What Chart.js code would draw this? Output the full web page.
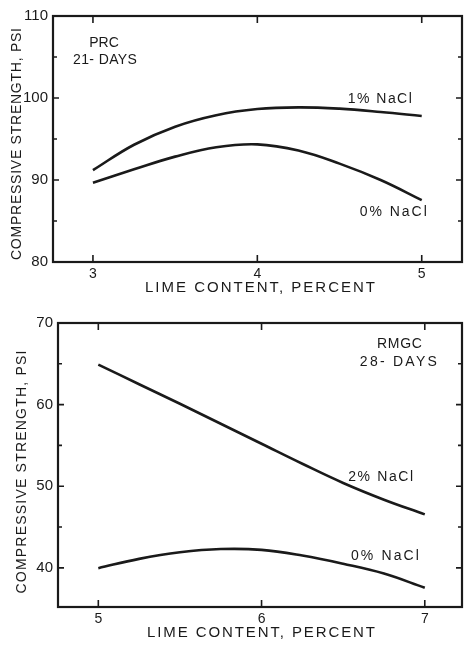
<!DOCTYPE html>
<html><head><meta charset="utf-8">
<script src="https://cdn.jsdelivr.net/npm/chart.js@4/dist/chart.umd.min.js"></script>
<style>
html,body{margin:0;padding:0;background:#fff;}
#wrap{position:relative;width:464px;height:645px;background:#fff;}
canvas{position:absolute;left:0;display:block;}
</style></head><body>
<div id="wrap">
<canvas id="c1" width="464" height="300" style="top:0"></canvas>
<canvas id="c2" width="464" height="345" style="top:300px"></canvas>
</div>
<script>
// ---- Top panel: PRC, 21 days ----
const prcLime   = [3, 3.25, 3.5, 3.75, 4, 4.25, 4.5, 4.75, 5];
const prcNaCl1  = [91.2, 94.3, 96.5, 97.9, 98.65, 98.86, 98.7, 98.3, 97.8];
const prcNaCl0  = [89.67, 91.3, 92.85, 94.0, 94.35, 93.6, 92.0, 90.0, 87.55];
const prcXTicks = [3, 4, 5];
const prcYTicks = [80, 85, 90, 95, 100, 105, 110];

// ---- Bottom panel: RMGC, 28 days ----
const rmgcLime   = [5, 5.25, 5.5, 5.75, 6, 6.25, 6.5, 6.75, 7];
const rmgcNaCl2  = [64.9, 62.5, 60.1, 57.65, 55.2, 52.75, 50.4, 48.35, 46.55];
const rmgcNaCl0  = [39.96, 41.1, 41.9, 42.3, 42.2, 41.5, 40.5, 39.3, 37.55];
const rmgcXTicks = [5, 6, 7];
const rmgcYTicks = [40, 45, 50, 55, 60, 65, 70];

const xTitle = 'LIME CONTENT, PERCENT';
const yTitle = 'COMPRESSIVE STRENGTH, PSI';

const INK = '#1a1a1a';
const FONT = '"Liberation Sans", Arial, sans-serif';

function drawSpaced(ctx, text, cx, cy, width, rot, size) {
  ctx.save();
  ctx.font = size + 'px ' + FONT;
  ctx.fillStyle = INK;
  ctx.textAlign = 'left';
  ctx.textBaseline = 'middle';
  ctx.letterSpacing = '0px';
  const w0 = ctx.measureText(text).width;
  let sp = 0;
  if (width) sp = Math.max(0, (width - w0) / (text.length - 1));
  ctx.letterSpacing = sp + 'px';
  const w = w0 + sp * (text.length - 1);
  ctx.translate(cx, cy);
  if (rot) ctx.rotate(rot);
  ctx.fillText(text, -w / 2, 0);
  ctx.restore();
}

function frameplugin(opts) {
  return {
    id: 'frame',
    afterDraw(chart) {
      const ctx = chart.ctx, a = chart.chartArea;
      const xs = chart.scales.x, ys = chart.scales.y;
      ctx.save();
      ctx.strokeStyle = INK;
      ctx.lineWidth = 2.2;
      ctx.strokeRect(a.left, a.top, a.right - a.left, a.bottom - a.top);
      ctx.lineWidth = 1.6;
      ctx.beginPath();
      opts.yTicks.forEach(v => {
        const p = ys.getPixelForValue(v);
        if (p <= a.top + 1 || p >= a.bottom - 1) return;
        const L = v % 10 === 0 ? 6 : 4;
        ctx.moveTo(a.left, p); ctx.lineTo(a.left + L, p);
        ctx.moveTo(a.right, p); ctx.lineTo(a.right - L, p);
      });
      opts.xTicks.forEach(v => {
        const p = xs.getPixelForValue(v);
        ctx.moveTo(p, a.bottom); ctx.lineTo(p, a.bottom - 7);
        ctx.moveTo(p, a.top); ctx.lineTo(p, a.top + 7);
      });
      ctx.stroke();
      ctx.restore();
      // axis titles
      drawSpaced(ctx, xTitle, opts.xTitlePos[0], opts.xTitlePos[1], opts.xTitleW, 0, 15);
      drawSpaced(ctx, yTitle, opts.yTitlePos[0], opts.yTitlePos[1], opts.yTitleW, -Math.PI / 2, 14);
      // annotations (positioned in data units)
      opts.notes.forEach(n => {
        drawSpaced(ctx, n.t, xs.getPixelForValue(n.x), ys.getPixelForValue(n.y), n.w, 0, 14);
      });
    }
  };
}

function makeChart(id, o) {
  const ds = o.series.map(s => ({
    data: o.lime.map((x, i) => ({x, y: s[i]})),
    borderColor: INK, borderWidth: 2.6, pointRadius: 0,
    tension: 0.4, fill: false
  }));
  return new Chart(document.getElementById(id), {
    type: 'line',
    data: {datasets: ds},
    options: {
      responsive: false, animation: false, devicePixelRatio: 1,
      layout: {padding: {top: o.padTop, right: 2, left: 0, bottom: 0}},
      plugins: {legend: {display: false}, tooltip: {enabled: false}},
      scales: {
        x: {
          type: 'linear', min: o.xMin, max: o.xMax,
          afterBuildTicks: s => { s.ticks = o.xTicks.map(v => ({value: v})); },
          afterFit: s => { s.height = o.xH; },
          grid: {display: false, drawTicks: false}, border: {display: false},
          ticks: {font: {family: FONT, size: 14}, color: INK, padding: 4, maxRotation: 0, autoSkip: false,
                  callback: v => String(v)}
        },
        y: {
          type: 'linear', min: o.yMin, max: o.yMax,
          afterBuildTicks: s => { s.ticks = o.yTicks.map(v => ({value: v})); },
          afterFit: s => { s.width = o.yW; },
          grid: {display: false, drawTicks: false}, border: {display: false},
          ticks: {font: {family: FONT, size: 15}, color: INK, padding: 5, autoSkip: false,
                  callback: v => (v % 10 === 0 ? String(v) : '')}
        }
      }
    },
    plugins: [frameplugin(o)]
  });
}

makeChart('c1', {
  lime: prcLime, series: [prcNaCl1, prcNaCl0],
  xMin: 2.757, xMax: 5.245, yMin: 80, yMax: 110,
  xTicks: prcXTicks, yTicks: prcYTicks,
  padTop: 16, xH: 38, yW: 53,
  xTitlePos: [260, 288], xTitleW: 230,
  yTitlePos: [17, 144], yTitleW: 232,
  notes: [
    {t: 'PRC', x: 3.067, y: 106.7, w: 28},
    {t: '21- DAYS', x: 3.073, y: 104.6, w: 64},
    {t: '1% NaCl', x: 4.745, y: 99.9, w: 64},
    {t: '0% NaCl', x: 4.827, y: 86.1, w: 67}
  ]
});

makeChart('c2', {
  lime: rmgcLime, series: [rmgcNaCl2, rmgcNaCl0],
  xMin: 4.753, xMax: 7.228, yMin: 35.2, yMax: 70,
  xTicks: rmgcXTicks, yTicks: rmgcYTicks,
  padTop: 23, xH: 38, yW: 58,
  xTitlePos: [261, 333], xTitleW: 228,
  yTitlePos: [22, 172], yTitleW: 243,
  notes: [
    {t: 'RMGC', x: 6.845, y: 67.4, w: 45},
    {t: '28- DAYS', x: 6.838, y: 65.2, w: 77},
    {t: '2% NaCl', x: 6.73, y: 51.1, w: 65},
    {t: '0% NaCl', x: 6.756, y: 41.4, w: 68}
  ]
});
</script>
</body></html>
